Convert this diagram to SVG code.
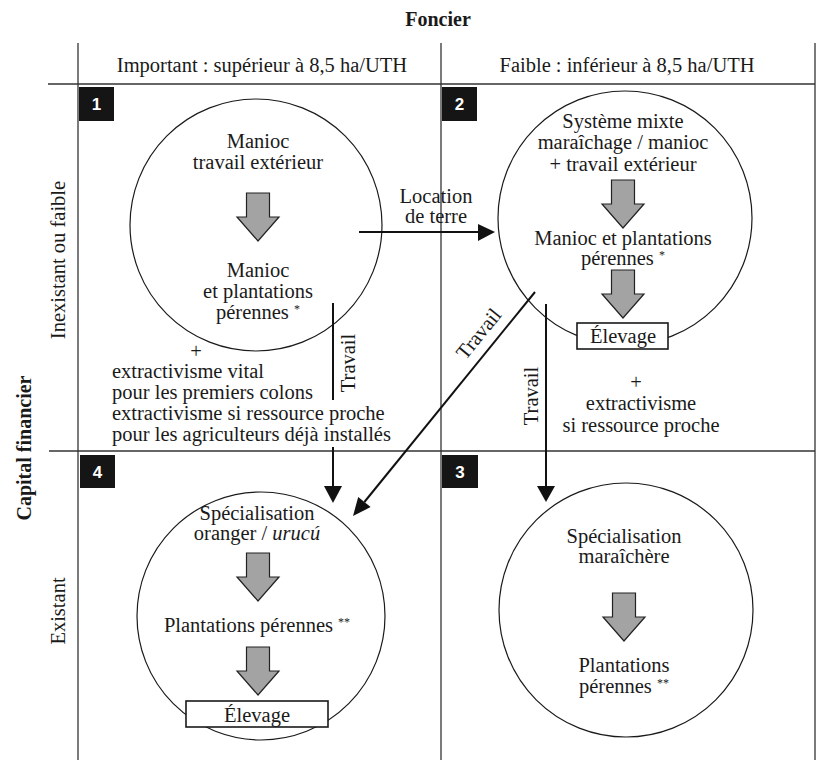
<svg xmlns="http://www.w3.org/2000/svg" width="818" height="762" viewBox="0 0 818 762">
<style>
text{font-family:"Liberation Serif","Times New Roman",serif;font-size:20.5px;fill:#1a1a1a}
.c{text-anchor:middle}
.b{font-weight:bold;font-size:20px}
.num{font-family:"Liberation Sans",Arial,sans-serif;font-weight:bold;font-size:17px;fill:#fff;text-anchor:middle}
.grid{stroke:#333;stroke-width:1.3;fill:none}
.circ{fill:none;stroke:#1a1a1a;stroke-width:1.2}
.conn{stroke:#111;stroke-width:2;fill:none}
.head{fill:#111;stroke:none}
.garrow{fill:#a3a3a3;stroke:#222;stroke-width:1.2;stroke-linejoin:miter}
.box{fill:#fff;stroke:#1a1a1a;stroke-width:1.6}
.badge{fill:#151515}
.sup{font-size:12px}
</style>
<defs>
<path id="ga" d="M-11.5,0 H11.5 V24 H21 L0,48 L-21,24 H-11.5 Z"/>
</defs>

<g id="grid">
<line class="grid" x1="48" y1="84" x2="815" y2="84"/>
<line class="grid" x1="49" y1="451" x2="815" y2="451"/>
<line class="grid" x1="78" y1="43" x2="78" y2="760"/>
<line class="grid" x1="441" y1="43" x2="441" y2="760"/>
<line class="grid" x1="815" y1="43" x2="815" y2="760"/>
</g>

<g id="headers">
<text class="c b" x="438" y="26">Foncier</text>
<text class="c" x="262" y="72">Important : supérieur à 8,5 ha/UTH</text>
<text class="c" x="627" y="72">Faible : inférieur à 8,5 ha/UTH</text>
<text class="c" transform="translate(65,260) rotate(-90)">Inexistant ou faible</text>
<text class="c b" transform="translate(31,448) rotate(-90)">Capital financier</text>
<text class="c" transform="translate(65,611) rotate(-90)">Existant</text>
</g>

<g id="q1">
<rect class="badge" x="79" y="87" width="35" height="34"/>
<text class="num" x="96.5" y="110">1</text>
<circle class="circ" cx="256" cy="225" r="126"/>
<text class="c" x="258" y="148">Manioc</text>
<text class="c" x="258" y="169">travail extérieur</text>
<use href="#ga" class="garrow" transform="translate(258,193)"/>
<text class="c" x="258" y="277">Manioc</text>
<text class="c" x="258" y="298">et plantations</text>
<text class="c" x="258" y="319">pérennes <tspan class="sup" dy="-6">*</tspan></text>
<text class="c" x="196" y="358">+</text>
<text x="112" y="378">extractivisme vital</text>
<text x="112" y="399">pour les premiers colons</text>
<text x="112" y="420">extractivisme si ressource proche</text>
<text x="112" y="441">pour les agriculteurs déjà installés</text>
</g>

<g id="q2">
<rect class="badge" x="442" y="87" width="35" height="34"/>
<text class="num" x="459.5" y="110">2</text>
<circle class="circ" cx="625" cy="218" r="127"/>
<text class="c" x="623" y="128">Système mixte</text>
<text class="c" x="623" y="149">maraîchage / manioc</text>
<text class="c" x="623" y="171">+ travail extérieur</text>
<use href="#ga" class="garrow" transform="translate(623,180)"/>
<text class="c" x="623" y="245">Manioc et plantations</text>
<text class="c" x="623" y="265">pérennes <tspan class="sup" dy="-6">*</tspan></text>
<use href="#ga" class="garrow" transform="translate(623,270)"/>
<rect class="box" x="577" y="323" width="91" height="26"/>
<text class="c" x="623" y="343">Élevage</text>
<text class="c" x="636" y="389">+</text>
<text class="c" x="641" y="410">extractivisme</text>
<text class="c" x="641" y="432">si ressource proche</text>
</g>

<g id="q4">
<rect class="badge" x="80" y="455" width="35" height="33"/>
<text class="num" x="97.5" y="478">4</text>
<circle class="circ" cx="261" cy="616" r="124"/>
<text class="c" x="257" y="520">Spécialisation</text>
<text class="c" x="257" y="540">oranger / <tspan font-style="italic">urucú</tspan></text>
<use href="#ga" class="garrow" transform="translate(258,553)"/>
<text class="c" x="257" y="632">Plantations pérennes <tspan class="sup" dy="-6">**</tspan></text>
<use href="#ga" class="garrow" transform="translate(258,647)"/>
<rect class="box" x="186" y="701" width="142" height="26"/>
<text class="c" x="257" y="722">Élevage</text>
</g>

<g id="q3">
<rect class="badge" x="442" y="455" width="36" height="33"/>
<text class="num" x="460" y="478">3</text>
<circle class="circ" cx="626" cy="610" r="127"/>
<text class="c" x="624" y="543">Spécialisation</text>
<text class="c" x="624" y="563">maraîchère</text>
<use href="#ga" class="garrow" transform="translate(624,593)"/>
<text class="c" x="624" y="672">Plantations</text>
<text class="c" x="624" y="693">pérennes <tspan class="sup" dy="-6">**</tspan></text>
</g>

<g id="connectors">
<line class="conn" x1="359" y1="232" x2="480" y2="232"/>
<polygon class="head" points="478,224 495,232 478,241"/>
<text class="c" x="436" y="203">Location</text>
<text class="c" x="436" y="223">de terre</text>

<line class="conn" x1="333" y1="303" x2="333" y2="400"/>
<line class="conn" x1="333" y1="447" x2="333" y2="488"/>
<polygon class="head" points="324,486 342,486 333,503"/>
<text class="c" transform="translate(355,363) rotate(-90)">Travail</text>

<line class="conn" x1="535" y1="292" x2="364.4" y2="502"/>
<polygon class="head" points="353,516 370.6,507.1 358.2,497"/>
<text class="c" transform="translate(484,338) rotate(-51)">Travail</text>

<line class="conn" x1="546" y1="304" x2="546" y2="488"/>
<polygon class="head" points="537,486 555,486 546,502"/>
<text class="c" transform="translate(538,396) rotate(-90)">Travail</text>
</g>
</svg>
